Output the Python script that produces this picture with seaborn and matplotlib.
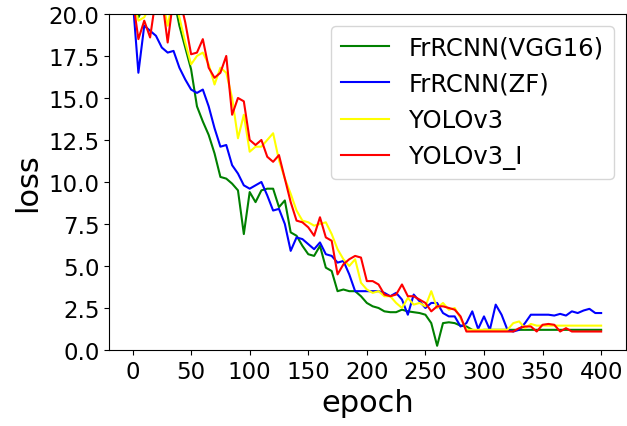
import numpy as np
import pandas as pd
import matplotlib
matplotlib.use("Agg")
import matplotlib.pyplot as plt
import seaborn as sns

# epochs sampled every 5
epochs = list(range(0, 401, 5))

vgg16 = [21.0, 19.8, 20.5, 21.0, 21.5, 21.5, 21.5, 21.0, 19.3, 18.0,
         16.7, 14.5, 13.6, 12.8, 11.7, 10.3, 10.2, 9.9, 9.5, 6.9,
         9.4, 8.8, 9.5, 9.6, 9.6, 8.5, 8.9, 7.0, 6.8, 6.2,
         5.7, 5.6, 6.2, 4.9, 4.7, 3.5, 3.6, 3.5, 3.5, 3.2,
         2.8, 2.6, 2.5, 2.3, 2.25, 2.25, 2.4, 2.3, 2.25, 2.2,
         2.1, 1.6, 0.25, 1.6, 1.65, 1.6, 1.45, 1.4, 1.2, 1.15,
         1.2, 1.2, 1.2, 1.2, 1.2, 1.2, 1.2, 1.2, 1.2, 1.2,
         1.2, 1.2, 1.2, 1.2, 1.2, 1.2, 1.2, 1.2, 1.2, 1.2, 1.2]

zf = [21.0, 16.5, 19.3, 19.0, 18.7, 18.0, 17.7, 17.8, 16.8, 16.1,
      15.5, 15.3, 15.5, 14.5, 13.2, 12.1, 12.2, 11.0, 10.5, 9.8,
      9.6, 9.8, 10.0, 9.2, 8.3, 8.4, 7.5, 5.9, 6.7, 6.6,
      6.3, 6.0, 6.4, 5.7, 5.6, 5.2, 5.3, 4.5, 3.5, 3.5,
      3.5, 3.5, 3.5, 3.4, 3.2, 3.4, 3.0, 2.1, 3.3, 2.9,
      2.5, 2.8, 2.8, 2.2, 2.0, 2.0, 1.4, 1.6, 2.3, 1.25,
      2.0, 1.2, 2.7, 2.1, 1.2, 1.1, 1.2, 1.6, 2.1, 2.1,
      2.1, 2.1, 2.05, 2.15, 2.05, 2.3, 2.2, 2.35, 2.45, 2.2, 2.2]

yolo = [21.0, 19.6, 19.8, 20.5, 21.0, 21.0, 19.3, 21.0, 19.8, 18.3,
        17.0, 17.5, 17.7, 17.0, 15.8, 16.8, 16.5, 15.0, 12.6, 14.0,
        11.8, 12.1, 12.1, 12.5, 12.9, 11.3, 10.2, 9.3, 8.3, 7.7,
        7.6, 7.4, 7.5, 7.6, 6.9, 6.0, 5.4, 5.0, 5.4, 4.0,
        3.6, 3.4, 3.5, 3.2, 3.2, 2.8, 2.5, 3.1, 2.7, 2.8,
        2.6, 3.5, 2.5, 2.8, 2.4, 2.5, 1.9, 1.2, 1.2, 1.2,
        1.2, 1.2, 1.2, 1.2, 1.2, 1.6, 1.7, 1.3, 1.55, 1.45,
        1.45, 1.45, 1.45, 1.45, 1.45, 1.45, 1.45, 1.45, 1.45, 1.45, 1.45]

yolo_i = [21.0, 18.5, 19.6, 18.6, 21.0, 21.0, 18.3, 21.0, 21.0, 19.5,
          17.6, 17.7, 18.5, 16.8, 16.2, 16.5, 17.5, 14.0, 15.0, 14.8,
          12.5, 12.2, 12.5, 11.5, 11.2, 11.6, 10.2, 8.8, 7.7, 7.6,
          7.3, 6.8, 7.9, 6.7, 6.5, 4.5, 5.1, 5.4, 5.6, 5.5,
          4.1, 4.1, 3.9, 3.3, 3.2, 3.3, 3.9, 3.2, 3.2, 3.0,
          2.8, 2.3, 2.6, 2.6, 2.5, 2.4, 2.0, 1.1, 1.1, 1.1,
          1.1, 1.1, 1.1, 1.1, 1.1, 1.1, 1.3, 1.4, 1.4, 1.1,
          1.5, 1.55, 1.5, 1.1, 1.3, 1.1, 1.1, 1.1, 1.1, 1.1, 1.1]

labels = ["FrRCNN(VGG16)", "FrRCNN(ZF)", "YOLOv3", "YOLOv3_I"]
colors = ["green", "blue", "yellow", "red"]

fig, ax = plt.subplots(figsize=(6.27, 4.27), dpi=100)
fig.subplots_adjust(left=0.174, right=0.998, top=0.965, bottom=0.178)

for vals, lab, col in zip([vgg16, zf, yolo, yolo_i], labels, colors):
    df = pd.DataFrame({"epoch": epochs, "loss": vals})
    sns.lineplot(data=df, x="epoch", y="loss", color=col, label=lab, linewidth=1.5, ax=ax)

ax.set_ylim(0, 20)
ax.set_xlim(-20, 421)
ax.set_xticks(range(0, 401, 50))
ax.set_yticks(np.arange(0, 20.1, 2.5))
ax.tick_params(labelsize=16.5)
ax.set_xlabel("epoch", fontsize=22)
ax.set_ylabel("loss", fontsize=22)
ax.legend(loc="upper right", fontsize=17.5)

fig.savefig("out.png", dpi=100)
